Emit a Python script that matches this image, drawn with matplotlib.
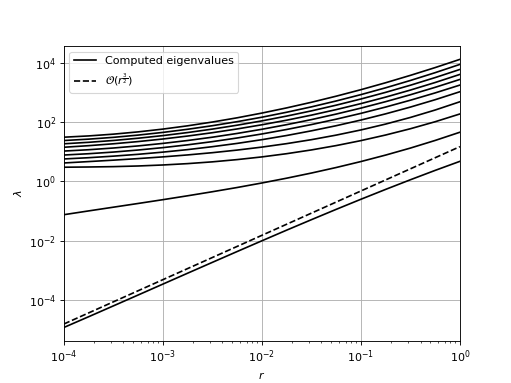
import matplotlib
matplotlib.use("Agg")
import matplotlib.pyplot as plt
import numpy as np

r = [1e-4, 1.778e-4, 3.162e-4, 5.623e-4, 1e-3, 1.778e-3, 3.162e-3, 5.623e-3,
     1e-2, 1.778e-2, 3.162e-2, 5.623e-2, 1e-1, 1.778e-1, 3.162e-1, 5.623e-1, 1.0]

# log10 of the computed eigenvalues, one list per curve (bottom -> top)
log_lam_b = [-4.941, -4.578, -4.211, -3.843, -3.474, -3.105, -2.738, -2.372, -2.009,
             -1.649, -1.295, -0.946, -0.604, -0.270, 0.056, 0.373, 0.679]
log_lam_m = [-1.126, -0.998, -0.872, -0.746, -0.618, -0.486, -0.349, -0.206, -0.053,
             0.109, 0.283, 0.470, 0.672, 0.891, 1.128, 1.386, 1.664]
log_lam_1 = [0.480, 0.488, 0.500, 0.522, 0.556, 0.602, 0.662, 0.738, 0.829,
             0.938, 1.065, 1.212, 1.380, 1.570, 1.782, 2.019, 2.282]
log_lam_2 = [0.624, 0.671, 0.719, 0.772, 0.830, 0.896, 0.972, 1.060, 1.161,
             1.278, 1.412, 1.566, 1.741, 1.940, 2.164, 2.415, 2.695]
log_lam_3 = [0.760, 0.802, 0.855, 0.917, 0.991, 1.076, 1.175, 1.286, 1.412,
             1.553, 1.711, 1.884, 2.076, 2.286, 2.515, 2.764, 3.034]
log_lam_4 = [0.893, 0.937, 0.993, 1.062, 1.143, 1.238, 1.346, 1.469, 1.605,
             1.757, 1.923, 2.105, 2.302, 2.516, 2.747, 2.994, 3.259]
log_lam_5 = [1.027, 1.072, 1.130, 1.201, 1.286, 1.384, 1.496, 1.623, 1.764,
             1.920, 2.091, 2.278, 2.480, 2.698, 2.932, 3.183, 3.450]
log_lam_6 = [1.156, 1.209, 1.273, 1.348, 1.435, 1.535, 1.648, 1.775, 1.916,
             2.071, 2.242, 2.429, 2.632, 2.852, 3.090, 3.346, 3.620]
log_lam_7 = [1.273, 1.323, 1.385, 1.461, 1.550, 1.653, 1.770, 1.902, 2.048,
             2.210, 2.386, 2.579, 2.788, 3.013, 3.254, 3.513, 3.788]
log_lam_8 = [1.383, 1.430, 1.491, 1.567, 1.658, 1.764, 1.885, 2.021, 2.172,
             2.340, 2.522, 2.721, 2.936, 3.167, 3.415, 3.679, 3.959]
log_lam_9 = [1.496, 1.539, 1.599, 1.676, 1.770, 1.881, 2.009, 2.152, 2.312,
             2.487, 2.677, 2.883, 3.103, 3.338, 3.588, 3.851, 4.129]

curves = [log_lam_b, log_lam_m, log_lam_1, log_lam_2, log_lam_3, log_lam_4,
          log_lam_5, log_lam_6, log_lam_7, log_lam_8, log_lam_9]

# reference slope line O(r^(3/2))
ref_r = [1e-4, 1.0]
ref_lam = [1.5e-5, 15.0]

fig, ax = plt.subplots(figsize=(511 / 80, 383 / 80), dpi=80)

for i, c in enumerate(curves):
    lab = "Computed eigenvalues" if i == 0 else None
    ax.loglog(r, 10 ** np.array(c), "k-", label=lab)
ax.loglog(ref_r, ref_lam, "k--", label=r"$\mathcal{O}(r^{\frac{3}{2}})$")

ax.set_xlim(1e-4, 1)
ax.set_xlabel("$r$")
ax.set_ylabel(r"$\lambda$")
ax.grid(True)
ax.legend(loc="upper left")

plt.savefig("out.png", dpi=80)
